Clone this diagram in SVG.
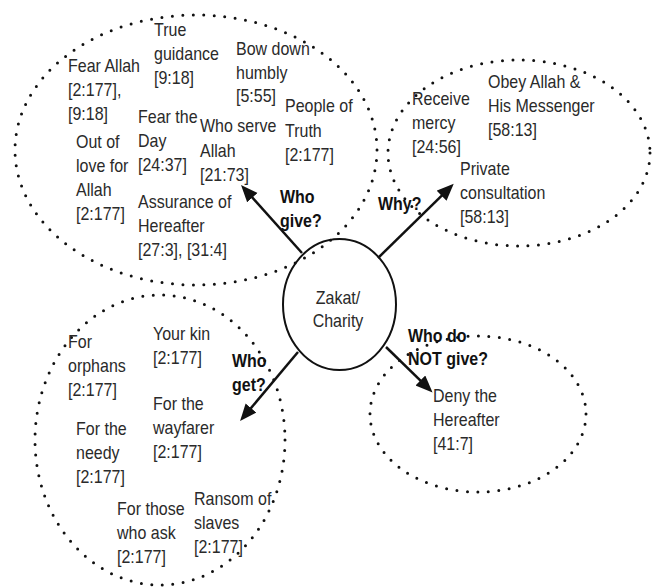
<svg xmlns="http://www.w3.org/2000/svg" width="654" height="588" viewBox="0 0 654 588">
<style>
  .dot { fill: none; stroke: #111; stroke-width: 3; stroke-linecap: round; stroke-dasharray: 0 10.5; }
  .t { font-family: "Liberation Sans", Arial, sans-serif; font-size: 16px; fill: #2a2a2a; }
  .b { font-family: "Liberation Sans", Arial, sans-serif; font-size: 16px; font-weight: bold; fill: #111; }
  .arrow { stroke: #111; stroke-width: 2.5; fill: none; marker-end: url(#head); }
  .center { fill: none; stroke: #111; stroke-width: 2; }
</style>
<defs>
  <marker id="head" markerUnits="userSpaceOnUse" markerWidth="18" markerHeight="15" refX="7" refY="7" orient="auto">
    <path d="M0,0 L17,7 L0,14 z" fill="#111"/>
  </marker>
</defs>
<rect width="654" height="588" fill="#fff"/>

<g id="cluster-who-give">
  <ellipse class="dot" cx="196" cy="150" rx="181" ry="135"/>
</g>
<g id="cluster-why">
  <ellipse class="dot" cx="519" cy="153" rx="131" ry="93"/>
</g>
<g id="cluster-who-get">
  <ellipse class="dot" cx="160" cy="440" rx="125" ry="145"/>
</g>
<g id="cluster-who-not-give">
  <ellipse class="dot" cx="478" cy="414" rx="108" ry="78"/>
</g>

<g id="connectors">
  <line class="arrow" x1="302" y1="253" x2="247.7" y2="192.4"/>
  <line class="arrow" x1="378" y1="258" x2="446.6" y2="190.8"/>
  <line class="arrow" x1="298" y1="352" x2="246.5" y2="413.4"/>
  <line class="arrow" x1="386" y1="347" x2="425.4" y2="385.4"/>
</g>

<g id="node-center">
  <ellipse class="center" cx="339.5" cy="304.5" rx="56.5" ry="65.5"/>
  <text class="t" transform="translate(338,304) scale(1,1.15)" text-anchor="middle"><tspan x="0" dy="0">Zakat/</tspan><tspan x="0" dy="20">Charity</tspan></text>
</g>

<g id="label-who-give"><text class="b" transform="translate(280,203) scale(1,1.15)"><tspan x="0">Who</tspan><tspan x="0" dy="21">give?</tspan></text></g>
<g id="label-why"><text class="b" transform="translate(378,210) scale(1,1.15)"><tspan x="0">Why?</tspan></text></g>
<g id="label-who-get"><text class="b" transform="translate(232,367) scale(1,1.15)"><tspan x="0">Who</tspan><tspan x="0" dy="21">get?</tspan></text></g>
<g id="label-who-not-give"><text class="b" transform="translate(408,342) scale(1,1.15)"><tspan x="0">Who do</tspan><tspan x="0" dy="20">NOT give?</tspan></text></g>

<g id="node-true-guidance"><text class="t" transform="translate(154,36) scale(1,1.15)"><tspan x="0">True</tspan><tspan x="0" dy="21">guidance</tspan><tspan x="0" dy="21">[9:18]</tspan></text></g>
<g id="node-fear-allah"><text class="t" transform="translate(68,72) scale(1,1.15)"><tspan x="0">Fear Allah</tspan><tspan x="0" dy="21">[2:177],</tspan><tspan x="0" dy="21">[9:18]</tspan></text></g>
<g id="node-bow-down"><text class="t" transform="translate(236,55) scale(1,1.15)"><tspan x="0">Bow down</tspan><tspan x="0" dy="20.5">humbly</tspan><tspan x="0" dy="20.5">[5:55]</tspan></text></g>
<g id="node-people-of-truth"><text class="t" transform="translate(285,112) scale(1,1.15)"><tspan x="0">People of</tspan><tspan x="0" dy="21.5">Truth</tspan><tspan x="0" dy="21">[2:177]</tspan></text></g>
<g id="node-fear-the-day"><text class="t" transform="translate(138,123) scale(1,1.15)"><tspan x="0">Fear the</tspan><tspan x="0" dy="21">Day</tspan><tspan x="0" dy="21">[24:37]</tspan></text></g>
<g id="node-who-serve"><text class="t" transform="translate(200,132) scale(1,1.15)"><tspan x="0">Who serve</tspan><tspan x="0" dy="21.5">Allah</tspan><tspan x="0" dy="21">[21:73]</tspan></text></g>
<g id="node-out-of-love"><text class="t" transform="translate(76,148) scale(1,1.15)"><tspan x="0">Out of</tspan><tspan x="0" dy="21">love for</tspan><tspan x="0" dy="21">Allah</tspan><tspan x="0" dy="21">[2:177]</tspan></text></g>
<g id="node-assurance"><text class="t" transform="translate(138,208) scale(1,1.15)"><tspan x="0">Assurance of</tspan><tspan x="0" dy="21">Hereafter</tspan><tspan x="0" dy="21">[27:3], [31:4]</tspan></text></g>

<g id="node-receive-mercy"><text class="t" transform="translate(412,105) scale(1,1.15)"><tspan x="0">Receive</tspan><tspan x="0" dy="21">mercy</tspan><tspan x="0" dy="21">[24:56]</tspan></text></g>
<g id="node-obey"><text class="t" transform="translate(488,88) scale(1,1.15)"><tspan x="0">Obey Allah &amp;</tspan><tspan x="0" dy="21">His Messenger</tspan><tspan x="0" dy="21">[58:13]</tspan></text></g>
<g id="node-private"><text class="t" transform="translate(460,175) scale(1,1.15)"><tspan x="0">Private</tspan><tspan x="0" dy="21">consultation</tspan><tspan x="0" dy="21">[58:13]</tspan></text></g>

<g id="node-orphans"><text class="t" transform="translate(68,348) scale(1,1.15)"><tspan x="0">For</tspan><tspan x="0" dy="21">orphans</tspan><tspan x="0" dy="21">[2:177]</tspan></text></g>
<g id="node-kin"><text class="t" transform="translate(153,340) scale(1,1.15)"><tspan x="0">Your kin</tspan><tspan x="0" dy="21">[2:177]</tspan></text></g>
<g id="node-wayfarer"><text class="t" transform="translate(153,410) scale(1,1.15)"><tspan x="0">For the</tspan><tspan x="0" dy="21">wayfarer</tspan><tspan x="0" dy="21">[2:177]</tspan></text></g>
<g id="node-needy"><text class="t" transform="translate(76,435) scale(1,1.15)"><tspan x="0">For the</tspan><tspan x="0" dy="21">needy</tspan><tspan x="0" dy="21">[2:177]</tspan></text></g>
<g id="node-those-who-ask"><text class="t" transform="translate(117,515) scale(1,1.15)"><tspan x="0">For those</tspan><tspan x="0" dy="21">who ask</tspan><tspan x="0" dy="21">[2:177]</tspan></text></g>
<g id="node-ransom"><text class="t" transform="translate(194,505) scale(1,1.15)"><tspan x="0">Ransom of</tspan><tspan x="0" dy="21">slaves</tspan><tspan x="0" dy="21">[2:177]</tspan></text></g>

<g id="node-deny"><text class="t" transform="translate(433,402) scale(1,1.15)"><tspan x="0">Deny the</tspan><tspan x="0" dy="21">Hereafter</tspan><tspan x="0" dy="21">[41:7]</tspan></text></g>
</svg>
